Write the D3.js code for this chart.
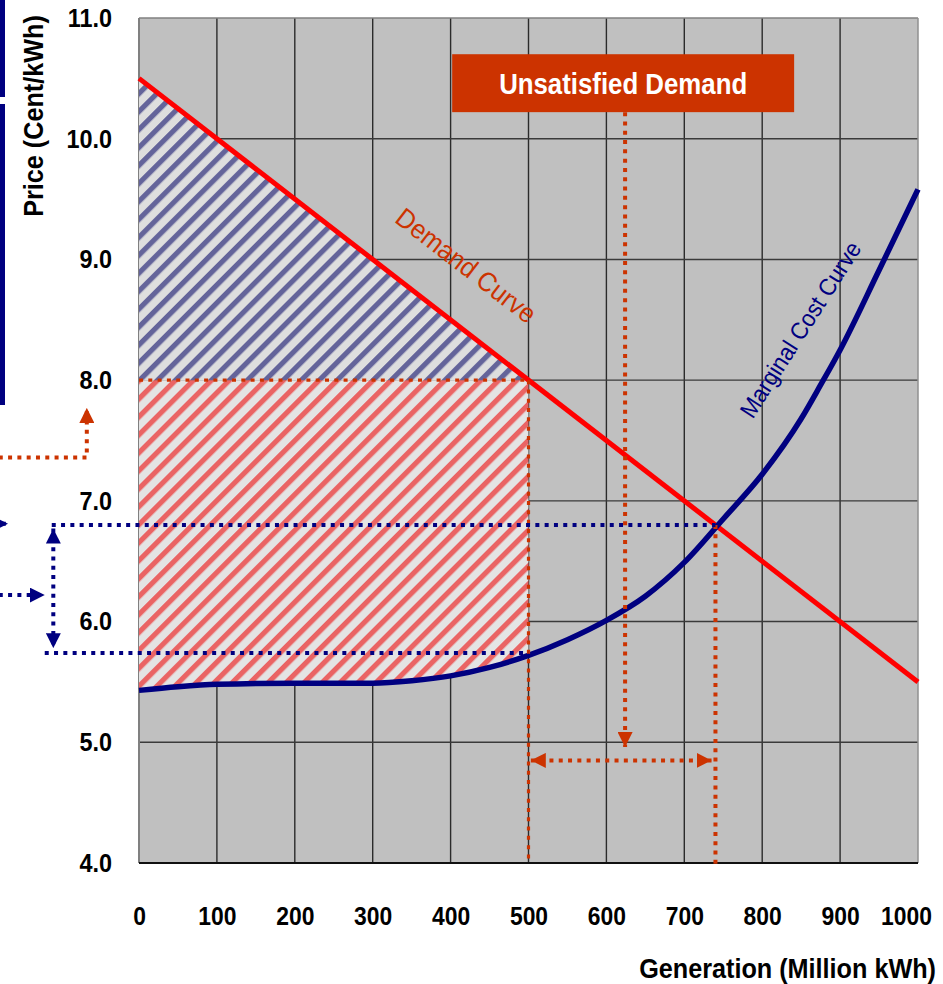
<!DOCTYPE html>
<html>
<head>
<meta charset="utf-8">
<script src="https://cdn.jsdelivr.net/npm/d3@7"></script>
<style>
  html, body { margin: 0; padding: 0; background: #fff; }
  svg { display: block; font-family: "Liberation Sans", Arial, sans-serif; }
  .tick-label { font-size: 26px; font-weight: bold; fill: #000; }
  .axis-label { font-size: 28px; font-weight: bold; fill: #000; }
</style>
</head>
<body>
<div id="chart"></div>
<script>
const width = 943, height = 984;
const margin = { top: 18, right: 25, bottom: 121, left: 139 };
const innerWidth = width - margin.left - margin.right;
const innerHeight = height - margin.top - margin.bottom;

// data
const genTicks = [0, 100, 200, 300, 400, 500, 600, 700, 800, 900, 1000];
const priceTicks = [4, 5, 6, 7, 8, 9, 10, 11];
const demandGen = [0, 1000];
const demandPrice = [10.5, 5.5];
const costGen = [0, 50, 100, 200, 300, 350, 400, 450, 500, 550, 600, 650, 700, 750, 800, 850, 875, 900, 950, 1000];
const costPrice = [5.43, 5.46, 5.48, 5.49, 5.49, 5.51, 5.55, 5.62, 5.72, 5.85, 6.01, 6.21, 6.49, 6.85, 7.22, 7.68, 7.96, 8.25, 8.91, 9.58];
const capGen = 500, capPrice = 8.0;       // supply limit / price cap
const eqGen = 740, eqPrice = 6.8;          // demand meets marginal cost
const capCost = 5.74;                      // marginal cost at the cap

const navy = "#000080", orange = "#cc3300";

const x = d3.scaleLinear().domain([0, 1000]).range([0, innerWidth]);
const y = d3.scaleLinear().domain([4, 11]).range([innerHeight, 0]);

const svg = d3.select("#chart").append("svg")
  .attr("width", width).attr("height", height);

const defs = svg.append("defs");

function hatch(id, bg, stripe) {
  const p = defs.append("pattern")
    .attr("id", id)
    .attr("patternUnits", "userSpaceOnUse")
    .attr("width", 12.7).attr("height", 12.7)
    .attr("patternTransform", "rotate(45)");
  p.append("rect").attr("width", 12.7).attr("height", 12.7).attr("fill", bg);
  p.append("rect").attr("x", 0).attr("width", 5.2).attr("height", 12.7).attr("fill", stripe);
}
hatch("hatchBlue", "#dedede", "#64649a");
hatch("hatchRed", "#e4e4e4", "#ea6464");

function marker(id, color) {
  defs.append("marker")
    .attr("id", id)
    .attr("viewBox", "0 0 10 10")
    .attr("refX", 10).attr("refY", 5)
    .attr("markerWidth", 15).attr("markerHeight", 15)
    .attr("markerUnits", "userSpaceOnUse")
    .attr("orient", "auto-start-reverse")
    .append("path").attr("d", "M0,0 L10,5 L0,10 Z").attr("fill", color);
}
marker("arrowOrange", orange);
marker("arrowNavy", navy);

// squeeze text horizontally, the original uses a narrow face
function squeeze(sel, k) {
  sel.each(function () {
    const len = this.getComputedTextLength();
    d3.select(this).attr("textLength", len * k).attr("lengthAdjust", "spacingAndGlyphs");
  });
}

// navy boxes cut at the left edge
svg.append("rect").attr("x", -10).attr("y", -5).attr("width", 15).attr("height", 102).attr("fill", navy);
svg.append("rect").attr("x", -10).attr("y", 104).attr("width", 15).attr("height", 301).attr("fill", navy);

const g = svg.append("g").attr("transform", `translate(${margin.left},${margin.top})`);

g.append("rect")
  .attr("width", innerWidth).attr("height", innerHeight)
  .attr("fill", "#c0c0c0");

// grid
g.append("g").selectAll("line").data(genTicks.slice(1, -1)).join("line")
  .attr("x1", d => x(d)).attr("x2", d => x(d))
  .attr("y1", 0).attr("y2", innerHeight)
  .attr("stroke", "#2b2b2b").attr("stroke-width", 1.4);
g.append("g").selectAll("line").data(priceTicks.slice(1, -1)).join("line")
  .attr("x1", 0).attr("x2", innerWidth)
  .attr("y1", d => y(d)).attr("y2", d => y(d))
  .attr("stroke", "#3a3a3a").attr("stroke-width", 1.4);

// plot border
g.append("line").attr("x1", 0).attr("x2", innerWidth).attr("y1", 0).attr("y2", 0).attr("stroke", "#808080").attr("stroke-width", 1.5);
g.append("line").attr("x1", 0).attr("x2", 0).attr("y1", 0).attr("y2", innerHeight).attr("stroke", "#808080").attr("stroke-width", 2);
g.append("line").attr("x1", innerWidth).attr("x2", innerWidth).attr("y1", 0).attr("y2", innerHeight).attr("stroke", "#909090").attr("stroke-width", 1.5);
g.append("line").attr("x1", 0).attr("x2", innerWidth).attr("y1", innerHeight).attr("y2", innerHeight).attr("stroke", "#111").attr("stroke-width", 2);

const demandAt = gen => d3.scaleLinear().domain(demandGen).range(demandPrice)(gen);
const line = d3.line().x(d => x(d[0])).y(d => y(d[1]));
const costLine = d3.line().x(d => x(d[0])).y(d => y(d[1])).curve(d3.curveMonotoneX);

// consumer surplus triangle (blue hatch)
g.append("path")
  .datum([[0, capPrice], [0, demandAt(0)], [capGen, capPrice]])
  .attr("d", d => line(d) + "Z")
  .attr("fill", "url(#hatchBlue)");

// producer area (red hatch)
const costPts = costGen.map((d, i) => [d, costPrice[i]]).filter(d => d[0] <= capGen);
g.append("path")
  .attr("d", costLine(costPts) + `L${x(capGen)},${y(capPrice)}L${x(0)},${y(capPrice)}Z`)
  .attr("fill", "url(#hatchRed)");

// demand line
g.append("path")
  .datum(demandGen.map((d, i) => [d, demandPrice[i]]))
  .attr("d", line)
  .attr("fill", "none").attr("stroke", "#ff0000").attr("stroke-width", 5);

// marginal cost curve
g.append("path")
  .datum(costGen.map((d, i) => [d, costPrice[i]]))
  .attr("d", costLine)
  .attr("fill", "none").attr("stroke", navy).attr("stroke-width", 5.5);

// dotted annotations
function dotted(pts, color, opts = {}) {
  const p = g.append("path")
    .attr("d", line(pts))
    .attr("fill", "none")
    .attr("stroke", color)
    .attr("stroke-width", opts.w || 4)
    .attr("stroke-dasharray", opts.dash || "4 5.3");
  if (opts.end) p.attr("marker-end", `url(#${opts.end})`);
  if (opts.start) p.attr("marker-start", `url(#${opts.start})`);
  return p;
}

// price cap line and verticals
dotted([[0, capPrice], [capGen, capPrice]], orange, { w: 3.2 });
dotted([[capGen, capPrice], [capGen, 4]], orange, { w: 3.2 });
dotted([[eqGen, eqPrice], [eqGen, 3.96]], orange);

// unsatisfied demand box + arrows
const boxGen = [402, 841], boxPrice = [10.7, 10.22];
dotted([[624, boxPrice[1]], [624, 4.96]], orange, { end: "arrowOrange" });
dotted([[capGen + 3, 4.85], [eqGen - 5, 4.85]], orange, { start: "arrowOrange", end: "arrowOrange" });

g.append("rect")
  .attr("x", x(boxGen[0])).attr("y", y(boxPrice[0]))
  .attr("width", x(boxGen[1]) - x(boxGen[0]))
  .attr("height", y(boxPrice[1]) - y(boxPrice[0]))
  .attr("fill", orange);
g.append("text")
  .attr("x", (x(boxGen[0]) + x(boxGen[1])) / 2)
  .attr("y", y(boxPrice[1]) - 18)
  .attr("text-anchor", "middle")
  .attr("fill", "#fff").attr("font-weight", "bold").attr("font-size", 30)
  .text("Unsatisfied Demand")
  .call(squeeze, 0.86);

// left side arrows (outside the plot)
dotted([[-180, 7.36], [-67, 7.36], [-67, 7.77]], orange, { end: "arrowOrange" });
dotted([[-112, eqPrice], [eqGen, eqPrice]], navy);
dotted([[-121, capCost], [capGen, capCost]], navy);
dotted([[-110, eqPrice - 0.03], [-110, capCost + 0.04]], navy, { start: "arrowNavy", end: "arrowNavy" });
dotted([[-180, 6.22], [-121, 6.22]], navy, { end: "arrowNavy" });
dotted([[-200, 6.81], [-168, 6.81]], navy, { end: "arrowNavy" });

// curve labels
g.append("text")
  .attr("transform", `translate(${x(420)},${y(8.95)}) rotate(37.7)`)
  .attr("text-anchor", "middle").attr("dy", "0.35em")
  .attr("fill", orange).attr("font-size", 27)
  .text("Demand Curve")
  .call(squeeze, 0.93);
g.append("text")
  .attr("transform", `translate(${x(849)},${y(8.42)}) rotate(-57.4)`)
  .attr("text-anchor", "middle").attr("dy", "0.35em")
  .attr("fill", navy).attr("font-size", 24)
  .text("Marginal Cost Curve")
  .call(squeeze, 0.93);

// axes
const yAxis = g.append("g")
  .call(d3.axisLeft(y).tickValues(priceTicks).tickFormat(d3.format(".1f")).tickSize(0).tickPadding(27));
const xAxis = g.append("g")
  .attr("transform", `translate(0,${innerHeight})`)
  .call(d3.axisBottom(x).tickValues(genTicks).tickFormat(d3.format("d")).tickSize(0).tickPadding(44));
[yAxis, xAxis].forEach(a => {
  a.select(".domain").remove();
  a.selectAll("text").attr("class", "tick-label").attr("font-family", null).attr("font-size", null);
});
squeeze(yAxis.selectAll("text"), 0.9);
squeeze(xAxis.selectAll("text"), 0.88);
xAxis.selectAll("text").filter(d => d === 1000).attr("dx", -12);

svg.append("text")
  .attr("class", "axis-label")
  .attr("transform", "translate(43,116) rotate(-90)")
  .attr("text-anchor", "middle")
  .text("Price (Cent/kWh)")
  .call(squeeze, 0.9);

svg.append("text")
  .attr("class", "axis-label")
  .attr("text-anchor", "end")
  .attr("x", 936).attr("y", 978)
  .text("Generation (Million kWh)")
  .call(squeeze, 0.9);
</script>
</body>
</html>
